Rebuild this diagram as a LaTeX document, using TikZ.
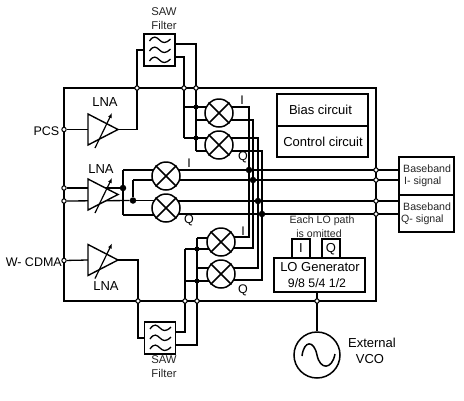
\documentclass[tikz,border=0pt]{standalone}
\usepackage{fontspec}
\setmainfont{Liberation Sans}
\usetikzlibrary{backgrounds,arrows.meta}
\tikzset{
  wire/.style={line width=1.3pt,line join=miter},
  bus/.style={line width=1.7pt},
  box/.style={draw,line width=1.3pt,fill=white,inner sep=0pt,rectangle},
  open/.style={circle,draw,fill=white,line width=1pt,minimum size=4.4pt,inner sep=0pt},
  dot/.style={circle,fill=black,minimum size=5pt,inner sep=0pt},
  bigdot/.style={circle,fill=black,minimum size=6.5pt,inner sep=0pt},
  mixer/.style={circle,draw,fill=white,line width=1.5pt,minimum size=28pt,inner sep=0pt},
  lab/.style={inner sep=0pt,font=\fontsize{12.5}{12.5}\selectfont},
  big/.style={inner sep=0pt,font=\fontsize{13}{13}\selectfont},
  pinl/.style={inner sep=0pt,font=\fontsize{12.5}{12.5}\selectfont},
  ratio/.style={inner sep=0pt,font=\fontsize{12.3}{12.3}\selectfont},
  sawl/.style={inner sep=0pt,font=\fontsize{11.3}{11.3}\selectfont,text=black!85},
  sgn/.style={inner sep=0pt,font=\fontsize{10.6}{10.6}\selectfont,text=black!85},
}
\newcommand{\mixerat}[3]{\node[mixer] (#1) at (#2,#3) {};
  \draw[line width=1.5pt] (#1.45) -- (#1.225) (#1.135) -- (#1.315);}
\newcommand{\lnaat}[3]{% name, x of left edge, y of tip
  \coordinate (#1) at (#2,#3);
  \draw[line width=1.4pt,fill=white] (#2,#3-15.5) coordinate (#1t) -- (#2+30,#3) coordinate (#1o) -- (#2,#3+15.5) -- cycle;
  \draw[line width=1.2pt,-{Latex[length=5pt,width=4pt]}] (#2+7,#3+18.5) -- (#2+24,#3-16.5);}
\newcommand{\sawat}[3]{% name, centre
  \node[box,minimum width=31pt,minimum height=32pt] (#1) at (#2,#3) {};
  \foreach \dy in {-10,0,10}{
    \draw[line width=1.3pt] (#2-10,#3+\dy+1) .. controls (#2-6,#3+\dy-5) and (#2-3,#3+\dy-3) .. (#2,#3+\dy)
       .. controls (#2+3,#3+\dy+3) and (#2+6,#3+\dy+4) .. (#2+11,#3+\dy-1);}}
\begin{document}
\begin{tikzpicture}[x=1pt,y=-1pt]
\useasboundingbox (0,0) rectangle (464,400);
% chip outline
\node[draw,line width=1.3pt,minimum width=312pt,minimum height=213pt,inner sep=0pt] (chip) at (220,194.5) {};
% mixers
\mixerat{mA}{219}{113}
\mixerat{mB}{219}{145}
\mixerat{mC}{166}{176}
\mixerat{mD}{166}{208}
\mixerat{mE}{221}{242}
\mixerat{mF}{221}{274}
% LNAs
\lnaat{lnaA}{88}{129.5}
\lnaat{lnaB}{88}{194.5}
\lnaat{lnaC}{88}{260}
% SAW filters
\sawat{sawA}{159.5}{50}
\sawat{sawB}{160}{338}
% input pins
\node[open] (pcs) at (64,129.5) {};
\node[open] (pinB1) at (64,188) {};
\node[open] (pinB2) at (64,201) {};
\node[open] (wc) at (64,260.5) {};
% chip-edge pins
\node[open] (a1) at (137,88) {};
\node[open] (a2) at (184,88) {};
\node[open] (a3) at (196,88) {};
\node[open] (c1) at (138,301) {};
\node[open] (c2) at (185,301) {};
\node[open] (c3) at (197,301) {};
\node[open] (o1) at (376,170) {};
\node[open] (o2) at (376,180) {};
\node[open] (o3) at (376,201) {};
\node[open] (o4) at (376,214) {};
\node[open] (lop) at (317,301) {};
% internal dots
\node[dot] (dA1) at (196,107) {};
\node[dot] (dA2) at (196,138) {};
\node[dot] (dC1) at (197,249) {};
\node[dot] (dC2) at (197,281) {};
\node[bigdot] (dB1) at (123,188) {};
\node[bigdot] (dB2) at (133,200.5) {};
\node[bigdot] (x1) at (249,170) {};
\node[bigdot] (x2) at (253,180) {};
\node[bigdot] (x3) at (258,201) {};
\node[bigdot] (x4) at (262,214) {};
% turn points
\coordinate (tA1) at (184,107); \coordinate (tA2) at (184,138);
\coordinate (tA3) at (196,120); \coordinate (tA4) at (196,151);
\coordinate (tC1) at (185,249); \coordinate (tC2) at (185,281);
\coordinate (tC3) at (197,238); \coordinate (tC4) at (197,268);
\coordinate (tB1) at (123,170); \coordinate (tB2) at (123,215);
\coordinate (tB3) at (133,180);
% boxes
\node[box,minimum width=91pt,minimum height=32pt] (bias) at (322.5,110) {};
\node[box,minimum width=91pt,minimum height=31pt] (ctrl) at (322.5,141.5) {};
\node[box,minimum width=55pt,minimum height=38pt] (bbI) at (426.5,176) {};
\node[box,minimum width=55pt,minimum height=37pt] (bbQ) at (426.5,213.5) {};
\node[box,minimum width=91pt,minimum height=34pt] (lo) at (319.5,275) {};
\node[box,minimum width=18pt,minimum height=19pt] (loI) at (301,248.5) {};
\node[box,minimum width=18pt,minimum height=19pt] (loQ) at (331,248.5) {};
\node[circle,draw,line width=1.5pt,fill=white,minimum size=46pt,inner sep=0pt] (vco) at (317,355) {};
\draw[line width=1.5pt] (302,356) .. controls (304,340) and (314,340) .. (317,355)
   .. controls (320,370) and (332,370) .. (335,354);
% connectors
\begin{scope}[on background layer]
\fill[white] (0,0) rectangle (464,400);
\begin{scope}[wire]
\draw (pcs) -- (lnaAo -| lnaA);
\draw (lnaAo) -| (a1.center) |- (sawA.west |- 0,50);
\draw (sawA.east |- 0,44) -| (a3.center);
\draw (sawA.east |- 0,57) -| (a2.center);
\draw (a2.center) -- (tA1) -- (tA2);
\draw (a3.center) -- (tA4);
\draw (tA1) -- (tA1 -| mA.center);
\draw (tA2) -- (tA2 -| mB.center);
\draw (tA3) -- (tA3 -| mA.center);
\draw (tA4) -- (tA4 -| mB.center);
% middle branch
\draw (pinB1) -- (dB1);
\draw (pinB2) -- (dB2);
\draw (tB1) -- (tB2);
\draw (dB2) -- (tB3);
\draw (tB1) -- (tB1 -| mC.center);
\draw (tB3) -- (tB3 -| mC.center);
\draw (tB2) -- (tB2 -| mD.center);
\draw (dB2) -- (dB2 -| mD.center);
% lower branch
\draw (wc) -- (lnaCo -| lnaC);
\draw (lnaCo) -| (c1.center) |- (sawB.west |- 0,338);
\draw (sawB.east |- 0,332) -| (c2.center);
\draw (sawB.east |- 0,345) -| (c3.center);
\draw (c2.center) -- (tC2) -- (tC1);
\draw (c3.center) -- (tC3);
\draw (tC1) -- (tC1 -| mE.center);
\draw (tC3) -- (tC3 -| mE.center);
\draw (tC2) -- (tC2 -| mF.center);
\draw (tC4) -- (tC4 -| mF.center);
% LO verticals
\draw (mA.center |- 0,107) -| (x1.center) -- (249,237) -- (mE.center |- 0,237);
\draw (mA.center |- 0,120) -| (x2.center) -- (253,248) -- (mE.center |- 0,248);
\draw (mB.center |- 0,138) -| (x3.center) -- (258,268) -- (mF.center |- 0,268);
\draw (mB.center |- 0,151) -| (x4.center) -- (262,280) -- (mF.center |- 0,280);
% LO
\draw[line width=1.7pt] (lo.south -| vco.north) -- (vco.north);
\end{scope}
\draw[bus] (mC.center |- o1) -- (bbI.west |- o1);
\draw[wire] (mC.center |- o2) -- (bbI.west |- o2);
\draw[bus] (mD.center |- o3) -- (bbI.west |- o3);
\draw[wire] (mD.center |- o4) -- (bbI.west |- o4);
\end{scope}
% labels
\node[sawl] (t1) at (164,12) {SAW};
\node[sawl] (t2) at (164,25) {Filter};
\node[sawl] (t3) at (164,360) {SAW};
\node[sawl] (t4) at (164,373) {Filter};
\node[pinl,anchor=east] (t5) at (59.5,131.5) {PCS};
\node[pinl,anchor=east] (t6) at (62,262) {W- CDMA};
\node[big] (t7) at (105,102) {LNA};
\node[big] (t8) at (101,169.5) {LNA};
\node[big] (t9) at (106,286) {LNA};
\node[big] (t10) at (320.5,110) {Bias circuit};
\node[big] (t11) at (323,141.5) {Control circuit};
\node[sgn,anchor=west] (t12) at (403,169) {Baseband};
\node[sgn,anchor=west] (t13) at (404,182) {I- signal};
\node[sgn,anchor=west] (t14) at (403,207) {Baseband};
\node[sgn,anchor=west] (t15) at (401,220) {Q- signal};
\node[sgn] (t16) at (322,221) {Each LO path};
\node[sgn] (t17) at (319,233.5) {is omitted};
\node[big] (t18) at (301,248.5) {I};
\node[big] (t19) at (331,249) {Q};
\node[big] (t20) at (320,267) {LO Generator};
\node[ratio] (t21) at (317,283) {9/8 5/4 1/2};
\node[big] (t22) at (372,343) {External};
\node[big] (t23) at (370,359) {VCO};
\node[lab] (t24) at (242,100) {I};
\node[lab] (t25) at (243,157) {Q};
\node[lab] (t26) at (189,163) {I};
\node[lab] (t27) at (189,220) {Q};
\node[lab] (t28) at (243,231) {I};
\node[lab] (t29) at (243,290) {Q};
\end{tikzpicture}
\end{document}
